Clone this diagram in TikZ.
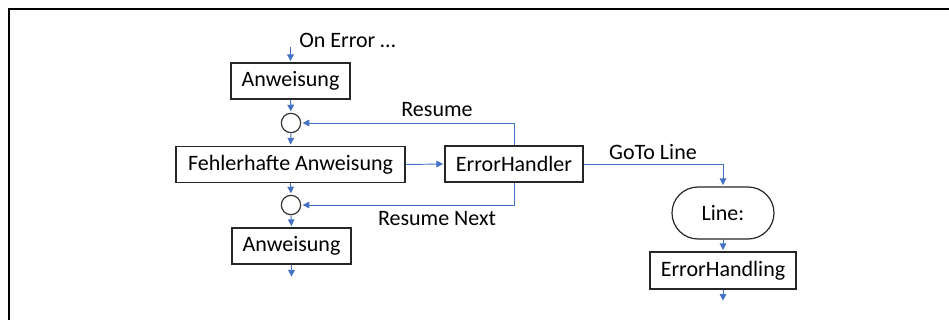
\documentclass[tikz,border=0pt]{standalone}
\usepackage{fontspec}
\setmainfont{Carlito}
\usepackage{xcolor}
\usetikzlibrary{arrows.meta}
\definecolor{flow}{RGB}{68,114,196}
\tikzset{
	stmt/.style={draw=black!85, line width=0.9pt, minimum height=27pt, inner sep=0pt,
			font=\fontsize{16.5}{18}\selectfont},
	junction/.style={circle, draw=black!80, line width=0.9pt, minimum size=14.5pt, inner sep=0pt},
	flowline/.style={draw=flow, line width=0.7pt, shorten >=1pt,
			-{Triangle[length=5pt,width=5pt]}},
	lbl/.style={font=\fontsize{16.5}{18}\selectfont, inner sep=0pt}
}

\begin{document}
\begin{tikzpicture}[x=0.75pt, y=-0.75pt]
		\useasboundingbox (0,0) rectangle (949,320);
		\draw [black, line width=1.5pt]	(8.75,320) -- (8.75,8.75) -- (949,8.75);

		\node [stmt, minimum width=89.25pt]	(a1) at (290.5,81) {Anweisung};
		\node [junction]	(c1) at (291,123) {};
		\node [stmt, minimum width=171.75pt]	(fa) at (290.5,164.5) {Fehlerhafte Anweisung};
		\node [junction]	(c2) at (291,205) {};
		\node [stmt, minimum width=89.25pt]	(a2) at (291.5,246) {Anweisung};
		\node [stmt, minimum width=103.5pt]	(eh) at (514,164) {ErrorHandler};
		\node [stmt, minimum width=76.5pt, minimum height=39pt, rounded corners=19.5pt]	(line) at (723,213) {Line:};
		\node [stmt, minimum width=109.5pt, minimum height=27.75pt]	(ehg) at (723,270.5) {ErrorHandling};

		\coordinate (in) at (290.5,47);
		\coordinate (out) at (291.5,278);
		\coordinate (hout) at (723,302);

		\node [lbl, anchor=west]	(onerr) at (299,40) {On Error \dots};
		\node [lbl]	(res) at (437,110) {Resume};
		\node [lbl]	(resnext) at (437,219) {Resume Next};
		\node [lbl]	(goto) at (653,152) {GoTo Line};

		\draw [flowline]	(in) -- (a1.north);
		\draw [flowline]	(a1.south) -- (c1.north);
		\draw [flowline]	(c1.south) -- (fa.north);
		\draw [flowline]	(fa.south) -- (c2.north);
		\draw [flowline]	(c2.south) -- (a2.north);
		\draw [flowline]	(a2.south) -- (out);
		\draw [flowline]	(fa.east) -- (eh.west);
		\draw [flowline]	(eh.north) |- (c1.east);
		\draw [flowline]	(eh.south) |- (c2.east);
		\draw [flowline]	(eh.east) -| (line.north);
		\draw [flowline]	(line.south) -- (ehg.north);
		\draw [flowline]	(ehg.south) -- (hout);
	\end{tikzpicture}
\end{document}
